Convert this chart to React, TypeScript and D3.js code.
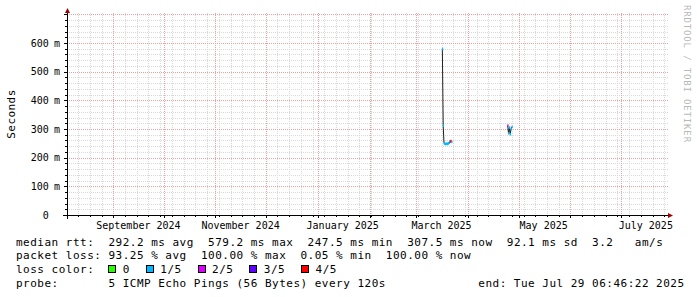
import React from 'react';
import * as d3 from 'd3';

// ---- data ----
const medianTimes: string[] = [
  '2025-03-16T12:00:00Z', '2025-03-17T00:00:00Z', '2025-03-17T12:00:00Z', '2025-03-18T00:00:00Z',
  '2025-03-18T12:00:00Z', '2025-03-19T00:00:00Z', '2025-03-19T12:00:00Z', '2025-03-20T00:00:00Z',
  '2025-03-20T12:00:00Z', '2025-03-21T00:00:00Z', '2025-03-21T12:00:00Z', '2025-03-22T00:00:00Z',
  '2025-03-22T12:00:00Z',
  '2025-04-24T12:00:00Z', '2025-04-25T00:00:00Z', '2025-04-25T12:00:00Z', '2025-04-26T00:00:00Z',
  '2025-04-26T12:00:00Z', '2025-04-27T00:00:00Z',
];
const medianMs: (number | null)[] = [
  579.2, 312, 250, 248, 247.5, 249, 248, 250, 252, 256, 258, 255,
  null,
  312, 285, 305, 282, 300, 307.5,
];
const medianLoss: number[] = [
  1, 1, 1, 1, 1, 1, 1, 1, 1, 4, 4, 1,
  0,
  2, 1, 1, 1, 1, 1,
];
const yTickValues: number[] = [0, 100, 200, 300, 400, 500, 600];
const lossLabels: string[] = ['0', '1/5', '2/5', '3/5', '4/5'];
const lossColors: string[] = ['#26ff00', '#00b8ff', '#dd00ff', '#5e00ff', '#ff0000'];
const legendLines: string[] = [
  'median rtt:  292.2 ms avg  579.2 ms max  247.5 ms min  307.5 ms now  92.1 ms sd  3.2   am/s',
  'packet loss: 93.25 % avg  100.00 % max  0.05 % min  100.00 % now',
  'loss color:',
  'probe:       5 ICMP Echo Pings (56 Bytes) every 120s',
];
const endText = 'end: Tue Jul 29 06:46:22 2025';
const yAxisTitle = 'Seconds';
const watermark = 'RRDTOOL / TOBI OETIKER';

const MONO = '"DejaVu Sans Mono", monospace';

export default function App() {
  const W = 697, H = 297;
  const left = 67, right = 668, top = 13, bottom = 215;

  const x = d3.scaleUtc()
    .domain([new Date(Date.UTC(2024, 8, 1)), new Date(Date.UTC(2025, 6, 1))])
    .range([113.3, 620.7]);
  const y = d3.scaleLinear().domain([0, 600]).range([bottom, 43]);

  const t0 = x.invert(left), t1 = x.invert(right);
  const minorX = d3.utcSunday.range(t0, t1);
  const majorX = d3.utcMonth.range(t0, t1);
  const labelMonths = (d3.utcMonth.every(2) as d3.CountableTimeInterval).range(d3.utcMonth.floor(t0), t1);
  const fmt = d3.utcFormat('%B %Y');

  const yMax = y.invert(top);
  const minorY = d3.range(20, yMax + 0.01, 20).filter(v => v % 100 !== 0);
  const majorY = d3.range(100, yMax + 0.01, 100);

  const pts = medianTimes.map((t, i) => ({ t: new Date(t), v: medianMs[i], l: medianLoss[i] }));
  const line = d3.line<{ t: Date; v: number | null; l: number }>()
    .defined(d => d.v != null)
    .x(d => x(d.t))
    .y(d => y(d.v as number));

  const halfDay = 12 * 3600 * 1000;

  // legend layout for loss colours
  const charW = 7.11;
  const lx0 = 16;
  let cur = lx0 + 13 * charW;
  const lossItems = lossLabels.map((lab, i) => {
    const item = { x: cur, lab, c: lossColors[i] };
    cur += 14.4 + lab.length * charW + 16;
    return item;
  });

  const legendBase = [245.5, 259.2, 272.8, 286.5];

  return (
    <svg width={W} height={H} style={{ position: 'absolute', left: 0, top: 0, background: '#fff' }}
      fontFamily={MONO}>
      <rect x={0} y={0} width={W} height={H} fill="#fff" />
      {/* minor grid */}
      <g stroke="#d9d9d9" strokeWidth={1} strokeDasharray="1,1" shapeRendering="crispEdges">
        {minorX.map((d, i) => (
          <line key={'mx' + i} x1={Math.round(x(d)) + 0.5} x2={Math.round(x(d)) + 0.5} y1={top} y2={bottom} />
        ))}
        {minorY.map((v, i) => (
          <line key={'my' + i} x1={left} x2={right} y1={Math.round(y(v)) + 0.5} y2={Math.round(y(v)) + 0.5} />
        ))}
      </g>
      {/* major grid */}
      <g stroke="#ee9f9f" strokeWidth={1} strokeDasharray="1,1" shapeRendering="crispEdges">
        {majorX.map((d, i) => (
          <line key={'Mx' + i} x1={Math.round(x(d)) + 0.5} x2={Math.round(x(d)) + 0.5} y1={top} y2={bottom} />
        ))}
        {majorY.map((v, i) => (
          <line key={'My' + i} x1={left} x2={right} y1={Math.round(y(v)) + 0.5} y2={Math.round(y(v)) + 0.5} />
        ))}
      </g>

      {/* median line and loss-coloured marks */}
      <path d={line(pts) || ''} fill="none" stroke="#202020" strokeWidth={1} />
      {pts.filter(p => p.v != null).map((p, i) => {
        const xa = x(p.t);
        const xb = x(new Date(p.t.getTime() + halfDay));
        return (
          <rect key={'m' + i} x={xa - 0.3} y={y(p.v as number) - 1.3} width={Math.max(1.2, xb - xa + 0.3)} height={2.6}
            fill={lossColors[p.l]} />
        );
      })}

      {/* axes */}
      <g stroke="#000" strokeWidth={1} shapeRendering="crispEdges">
        <line x1={left + 0.5} x2={left + 0.5} y1={top} y2={bottom + 4} />
        <line x1={left - 4} x2={right} y1={bottom + 0.5} y2={bottom + 0.5} />
        {minorY.map((v, i) => (
          <line key={'tmy' + i} x1={left - 2} x2={left} y1={Math.round(y(v)) + 0.5} y2={Math.round(y(v)) + 0.5} />
        ))}
        {majorY.map((v, i) => (
          <line key={'tMy' + i} x1={left - 3} x2={left} y1={Math.round(y(v)) + 0.5} y2={Math.round(y(v)) + 0.5} />
        ))}
        {minorX.map((d, i) => (
          <line key={'tmx' + i} x1={Math.round(x(d)) + 0.5} x2={Math.round(x(d)) + 0.5} y1={bottom} y2={bottom + 2} />
        ))}
        {majorX.map((d, i) => (
          <line key={'tMx' + i} x1={Math.round(x(d)) + 0.5} x2={Math.round(x(d)) + 0.5} y1={bottom} y2={bottom + 3} />
        ))}
      </g>
      <polygon points={`${left - 2},${top} ${left + 3},${top} ${left + 0.5},${top - 5}`} fill="#a00000" />
      <polygon points={`${right},${bottom - 2} ${right},${bottom + 3} ${right + 5},${bottom + 0.5}`} fill="#a00000" />

      {/* y tick labels */}
      <g fontSize={10} fill="#000">
        {yTickValues.map(v => (
          <g key={'yl' + v}>
            <text x={48.7} y={y(v) + 3.6} textAnchor="end">{String(v)}</text>
            {v > 0 && <text x={54} y={y(v) + 3.6}>m</text>}
          </g>
        ))}
      </g>
      {/* x labels */}
      <g fontSize={10} fill="#000">
        {labelMonths.map((d, i) => {
          const c = x(new Date(d.getTime() + 15 * 24 * 3600 * 1000));
          if (c > right) return null;
          return <text key={'xl' + i} x={c} y={228.5} textAnchor="middle">{fmt(d)}</text>;
        })}
      </g>

      {/* y axis title */}
      <text transform={`translate(14.5,${(top + bottom) / 2}) rotate(-90)`} textAnchor="middle" fontSize={11}
        letterSpacing={0.45} fill="#000">{yAxisTitle}</text>

      {/* watermark */}
      <text transform={`translate(683.5,5) rotate(90)`} fontSize={9} letterSpacing={0.85} fill="#b8b8b8">{watermark}</text>

      {/* legend */}
      <g fontSize={11} letterSpacing={0.49} fill="#000" style={{ whiteSpace: 'pre' }}>
        {legendLines.map((s, i) => (
          <text key={'lg' + i} x={lx0} y={legendBase[i]} style={{ whiteSpace: 'pre' }}>{s}</text>
        ))}
        <text x={478.3} y={legendBase[3]} style={{ whiteSpace: 'pre' }}>{endText}</text>
        {lossItems.map((it, i) => (
          <g key={'li' + i}>
            <rect x={Math.round(it.x) + 0.5} y={265.5} width={7} height={7} fill={it.c} stroke="#000" strokeWidth={1} />
            <text x={it.x + 14.4} y={legendBase[2]} style={{ whiteSpace: 'pre' }}>{it.lab}</text>
          </g>
        ))}
      </g>
    </svg>
  );
}
